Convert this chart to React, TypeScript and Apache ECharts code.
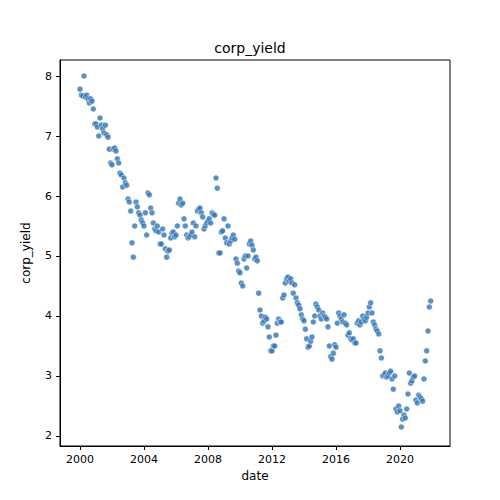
import React, { useEffect, useRef } from 'react';
import * as echarts from 'echarts';

// monthly values, one row per year starting 2000
const startYear = 2000;
const yearlyValues: number[][] = [
  [7.78, 7.68, 7.67, 8.0, 7.65, 7.68, 7.62, 7.55, 7.62, 7.58, 7.45, 7.2],
  [7.2, 7.15, 7.0, 7.3, 7.18, 7.12, 7.05, 7.18, 7.02, 6.98, 6.78, 6.55],
  [6.52, 6.78, 6.8, 6.75, 6.62, 6.55, 6.38, 6.35, 6.15, 6.3, 6.22, 6.18],
  [5.95, 5.9, 5.75, 5.22, 4.98, 5.5, 5.9, 5.82, 5.72, 5.68, 5.6, 5.55],
  [5.5, 5.72, 5.35, 6.05, 6.02, 5.8, 5.72, 5.55, 5.45, 5.42, 5.5, 5.4],
  [5.2, 5.2, 5.45, 5.35, 5.12, 4.98, 5.08, 5.1, 5.3, 5.38, 5.4, 5.32],
  [5.35, 5.5, 5.88, 5.95, 5.85, 5.88, 5.62, 5.5, 5.35, 5.3, 5.32, 5.35],
  [5.4, 5.55, 5.32, 5.5, 5.75, 5.78, 5.8, 5.72, 5.65, 5.45, 5.5, 5.55],
  [5.58, 5.62, 5.55, 5.72, 5.7, 5.68, 6.3, 6.13, 5.05, 5.05, 5.4, 5.42],
  [5.62, 5.3, 5.22, 5.5, 5.2, 5.25, 5.3, 5.35, 5.28, 4.95, 4.88, 4.75],
  [4.72, 4.55, 4.5, 4.95, 5.0, 4.8, 5.0, 5.2, 5.25, 5.18, 5.1, 4.95],
  [4.98, 4.92, 4.38, 4.1, 4.0, 3.88, 3.92, 3.98, 3.95, 3.82, 3.65, 3.42],
  [3.42, 3.5, 3.5, 3.68, 3.88, 3.95, 3.9, 3.9, 4.3, 4.35, 4.55, 4.62],
  [4.65, 4.58, 4.62, 4.55, 4.38, 4.52, 4.3, 4.22, 4.18, 4.12, 4.02, 3.95],
  [3.92, 3.78, 3.62, 3.48, 3.5, 3.58, 3.65, 3.9, 4.0, 4.2, 4.15, 4.1],
  [4.0, 3.95, 4.05, 4.0, 3.98, 3.95, 3.82, 3.5, 3.32, 3.28, 3.38, 3.52],
  [3.48, 3.88, 4.05, 4.0, 3.95, 3.9, 4.02, 3.88, 3.85, 3.68, 3.72, 3.62],
  [3.6, 3.62, 3.55, 3.55, 3.88, 3.92, 3.85, 3.9, 4.0, 3.95, 3.92, 3.98],
  [4.05, 4.15, 4.22, 4.05, 3.9, 3.85, 3.78, 3.75, 3.7, 3.42, 3.3, 3.0],
  [3.02, 3.05, 2.98, 3.0, 3.05, 3.08, 2.95, 2.78, 3.0, 2.45, 2.4, 2.5],
  [2.42, 2.15, 2.28, 2.35, 2.3, 2.45, 2.7, 3.05, 2.88, 2.92, 2.98, 3.0],
  [2.6, 2.55, 2.68, 2.65, 2.62, 2.58, 2.95, 3.25, 3.42, 3.75, 4.15, 4.25],
];
const xTicks = [2000, 2004, 2008, 2012, 2016, 2020];
const yTicks = [2, 3, 4, 5, 6, 7, 8];

const App: React.FC = () => {
  const chartRef = useRef<HTMLDivElement | null>(null);

  useEffect(() => {
    if (!chartRef.current) return;
    const chart = echarts.init(chartRef.current, undefined, { renderer: 'svg' });
    const points: number[][] = [];
    yearlyValues.forEach((row, i) =>
      row.forEach((v, m) => points.push([startYear + i + m / 12, v]))
    );
    const font = 'DejaVu Sans';
    chart.setOption({
      animation: false,
      title: {
        text: 'corp_yield',
        left: 'center',
        top: 36,
        textStyle: { fontFamily: font, fontSize: 14, fontWeight: 'normal', color: '#000' },
      },
      grid: { left: 60, right: 50, top: 60, bottom: 54 },
      xAxis: {
        type: 'value',
        min: 1998.75,
        max: 2023.125,
        name: 'date',
        nameLocation: 'middle',
        nameGap: 22,
        nameTextStyle: { fontFamily: font, fontSize: 12, color: '#000' },
        axisLine: { lineStyle: { color: '#000' } },
        axisTick: { customValues: xTicks, length: 4, lineStyle: { color: '#000' } },
        axisLabel: { customValues: xTicks, fontFamily: font, fontSize: 11, color: '#000', formatter: (v: number) => String(Math.round(v)) },
        splitLine: { show: false },
      },
      yAxis: {
        type: 'value',
        min: 1.833,
        max: 8.267,
        name: 'corp_yield',
        nameLocation: 'middle',
        nameGap: 28,
        nameTextStyle: { fontFamily: font, fontSize: 12, color: '#000' },
        axisLine: { show: true, lineStyle: { color: '#000' } },
        axisTick: { show: true, customValues: yTicks, length: 4, lineStyle: { color: '#000' } },
        axisLabel: { customValues: yTicks, fontFamily: font, fontSize: 11, color: '#000', formatter: (v: number) => String(Math.round(v)) },
        splitLine: { show: false },
      },
      graphic: [
        {
          type: 'rect',
          shape: { x: 60, y: 60, width: 390, height: 386 },
          style: { fill: 'none', stroke: '#000', lineWidth: 1 },
          silent: true,
        },
      ],
      series: [
        {
          type: 'scatter',
          data: points,
          symbolSize: 6,
          itemStyle: { color: '#3274b4', borderColor: '#fff', borderWidth: 0.6 },
        },
      ],
    });
    return () => chart.dispose();
  }, []);

  return <div ref={chartRef} style={{ width: 500, height: 500, margin: -8 }} />;
};

export default App;
